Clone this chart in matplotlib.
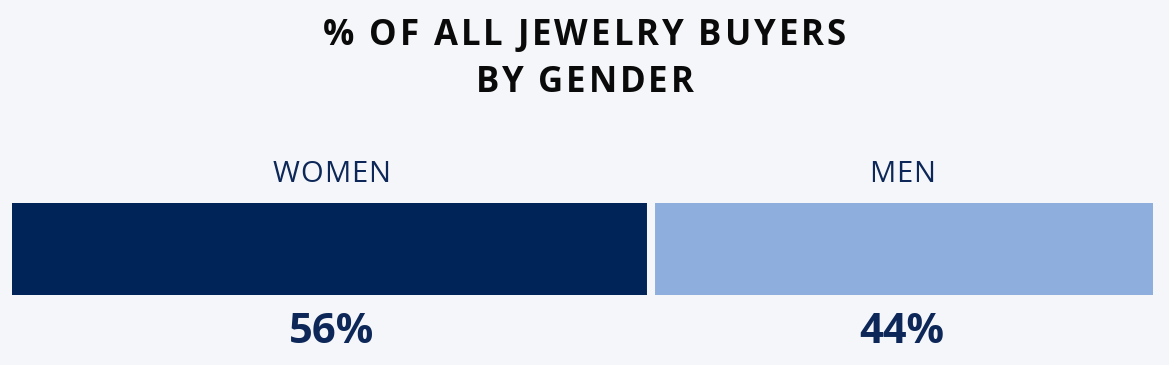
import matplotlib.pyplot as plt
from matplotlib.font_manager import FontProperties

categories = ["WOMEN", "MEN"]
shares = [56, 44]
title_lines = ["% OF ALL JEWELRY BUYERS", "BY GENDER"]

bg = "#f4f6f9"
bar_colors = ["#002457", "#8eafdd"]
navy = "#0d2858"

plt.rcParams['font.family'] = ['Open Sans', 'DejaVu Sans']

W, H = 1169, 365
fig = plt.figure(figsize=(W / 100, H / 100), dpi=100)
fig.patch.set_facecolor(bg)
renderer = fig.canvas.get_renderer()


def spaced_text(xc, y_top, s, size, weight, color, spacing):
    # matplotlib has no letter spacing, so place the characters one by one (pixels)
    prop = FontProperties(family=['Open Sans', 'DejaVu Sans'], size=size, weight=weight)
    bar_w = renderer.get_text_width_height_descent("|", prop, ismath=False)[0]
    def width(t):
        return renderer.get_text_width_height_descent(t + "|", prop, ismath=False)[0] - bar_w
    total = width(s) + spacing * (len(s) - 1)
    x0 = xc - total / 2
    for i, ch in enumerate(s):
        if ch == " ":
            continue
        x = x0 + width(s[:i]) + spacing * i
        fig.text(x / W, 1 - y_top / H, ch, ha="left", va="top", fontproperties=prop, color=color)


ax = fig.add_axes([12 / W, (H - 295) / H, 1141 / W, 92 / H])
ax.set_facecolor(bg)

left = 0
for cat, val, col in zip(categories, shares, bar_colors):
    ax.barh(0, val, left=left, height=1, color=col, linewidth=0)
    left += val
ax.axvline(shares[0], color=bg, lw=5.8)

ax.set_xlim(0, sum(shares))
ax.set_ylim(-0.5, 0.5)
ax.axis("off")

# labels above / values below, centred on each bar
fig.canvas.draw()
left = 0
for cat, val in zip(categories, shares):
    mid_px = ax.transData.transform((left + val / 2, 0))[0]
    spaced_text(mid_px, 160, cat, 21, "normal", navy, 1.0)
    ax.text(left + val / 2, -0.68, f"{val}%", ha="center", va="top",
            fontsize=30, fontweight="bold", color=navy)
    left += val

spaced_text(W / 2, 18, title_lines[0], 25, "bold", "#0a0a0a", 2.9)
spaced_text(W / 2, 65, title_lines[1], 25, "bold", "#0a0a0a", 2.9)

fig.savefig("out.png", dpi=100, facecolor=bg)
